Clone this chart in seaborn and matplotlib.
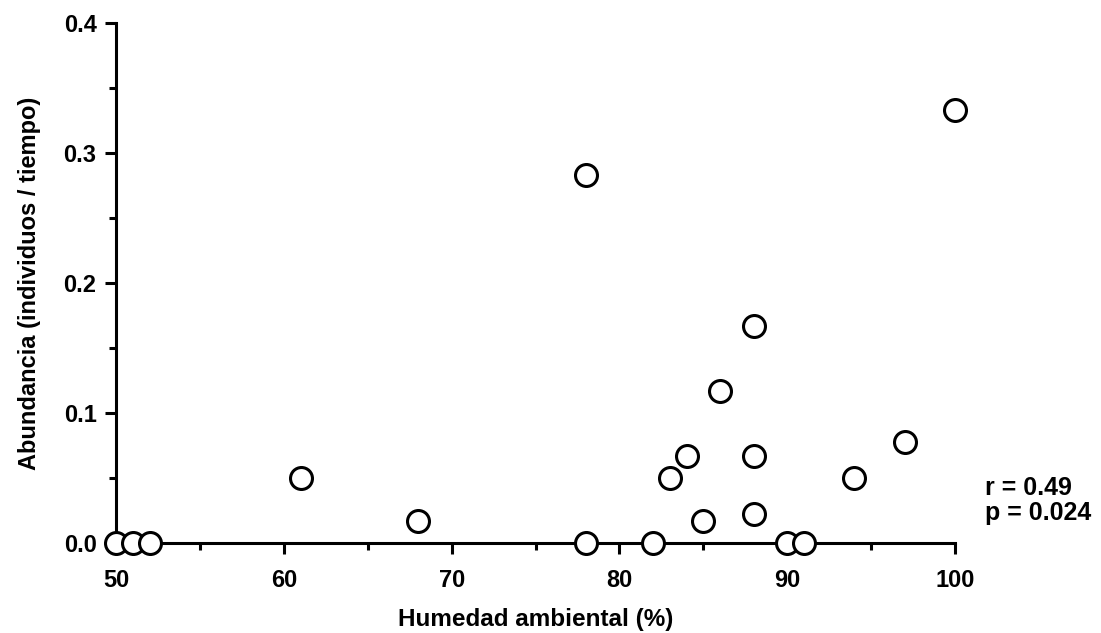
import matplotlib
matplotlib.use("Agg")
import matplotlib.pyplot as plt
import seaborn as sns
import pandas as pd
from matplotlib.ticker import MultipleLocator

humedad = [50, 51, 52, 61, 68, 78, 78, 82, 83, 84, 85, 86, 88, 88, 88, 90, 91, 94, 97, 100]
abundancia = [0.0, 0.0, 0.0, 0.05, 0.017, 0.283, 0.0, 0.0, 0.05, 0.067, 0.017, 0.117,
              0.167, 0.067, 0.022, 0.0, 0.0, 0.05, 0.078, 0.333]
x_label = "Humedad ambiental (%)"
y_label = "Abundancia (individuos / tiempo)"
stats_text = "r = 0.49\np = 0.024"

df = pd.DataFrame({"x": humedad, "y": abundancia})

sns.set_style("ticks")
plt.rcParams['font.family'] = ['Liberation Sans', 'DejaVu Sans']
plt.rcParams['font.weight'] = 'bold'
plt.rcParams['text.color'] = 'black'
plt.rcParams['axes.labelcolor'] = 'black'

fig = plt.figure(figsize=(11.01, 6.33), dpi=100)
ax = fig.add_axes([0.1054, 0.1422, 0.7620, 0.8215])

sns.scatterplot(data=df, x="x", y="y", ax=ax, s=250, facecolor="white",
                edgecolor="black", linewidth=2.2, clip_on=False, zorder=5, legend=False)

ax.set_xlim(50, 100)
ax.set_ylim(0, 0.4)
ax.xaxis.set_major_locator(MultipleLocator(10))
ax.xaxis.set_minor_locator(MultipleLocator(5))
ax.yaxis.set_major_locator(MultipleLocator(0.1))
ax.yaxis.set_minor_locator(MultipleLocator(0.05))
ax.yaxis.set_major_formatter(matplotlib.ticker.FormatStrFormatter('%.1f'))

sns.despine(ax=ax)
for s in ["left", "bottom"]:
    ax.spines[s].set_linewidth(2.2)
    ax.spines[s].set_color("black")
ax.tick_params(which="major", length=8, width=2.2, direction="out", labelsize=17, colors="black")
ax.tick_params(which="minor", length=5, width=2.2, direction="out", colors="black")
ax.tick_params(axis="x", which="major", pad=11)
ax.tick_params(axis="y", which="major", pad=6)
for lab in ax.get_xticklabels() + ax.get_yticklabels():
    lab.set_fontweight("bold")

ax.set_xlabel(x_label, fontsize=17.5, fontweight="bold", labelpad=11, color="black")
ax.set_ylabel(y_label, fontsize=17, fontweight="bold", labelpad=16, color="black")

ax.text(1.036, 0.128, stats_text, transform=ax.transAxes, fontsize=18,
        fontweight="bold", va="top", ha="left", linespacing=1.05, color="black")

fig.savefig("out.png", dpi=100)
